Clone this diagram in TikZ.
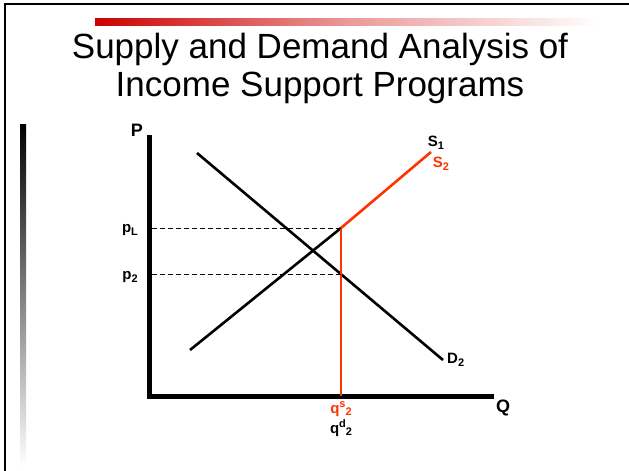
\documentclass[tikz,border=0pt]{standalone}
\usepackage{fontspec}
\setmainfont{Liberation Sans}
\usetikzlibrary{positioning,calc}
\definecolor{supred}{RGB}{255,51,0}
\definecolor{barred}{RGB}{204,0,0}
\newcommand\lowidx[1]{\raisebox{-0.35ex}{\fontsize{11}{11}\selectfont #1}}
\newcommand\highidx[1]{\raisebox{0.7ex}{\fontsize{11}{11}\selectfont #1}}
\tikzset{
  axis/.style={line width=5pt, line join=miter},
  curve/.style={line width=2.6pt},
  redcurve/.style={curve, draw=supred},
  guide/.style={line width=0.9pt, dash pattern=on 5pt off 3pt},
  axislbl/.style={font=\bfseries\fontsize{18}{18}\selectfont, inner sep=1pt},
  lbl/.style={font=\bfseries\fontsize{15}{15}\selectfont, inner sep=1pt},
  titletext/.style={font=\fontsize{35}{38}\selectfont, align=center}
}

\begin{document}
\begin{tikzpicture}[x=1pt, y=-1pt]
\useasboundingbox (0,0) rectangle (629,471);
% slide frame and bars
\draw[line width=2.5pt] (5,471) -- (5,4) -- (629,4);
\shade[left color=barred, right color=white, middle color=barred!40] (95,18) rectangle (600,25);
\shade[top color=black, bottom color=white] (20,124) rectangle (26,466);
\node[titletext] (title) at (320,68) {Supply and Demand Analysis of\\Income Support Programs};

% axes
\coordinate (origin) at (149,396);
\coordinate (ytop) at (149,135);
\coordinate (xend) at (494,396);
\draw[axis] (ytop) -- (origin) -- (xend);
\node[axislbl] (plbl) at (137,130) {P};
\node[axislbl] (qlbl) at (503,408) {Q};

% demand
\coordinate (d0) at (197,153);
\coordinate (d1) at (443,360);
\draw[curve] (d0) -- (d1);
\node[lbl, anchor=west] (dlbl) at (446,360) {D\lowidx{2}};

% supply with price floor
\coordinate (s0) at (190,350);
\coordinate (kink) at (341,228);
\coordinate (s1) at (431,152);
\draw[curve] (s0) -- (kink);
\draw[redcurve] (kink) -- (s1);
\draw[redcurve] (kink) -- (kink |- origin);
\node[lbl] (s1lbl) at (436,143) {S\lowidx{1}};
\node[lbl, text=supred] (s2lbl) at (441,164) {S\lowidx{2}};

% price levels
\node[lbl] (pL) at (130,230) {p\lowidx{L}};
\node[lbl] (p2) at (130,277) {p\lowidx{2}};
\coordinate (p2pt) at (341,274);
\draw[guide] (ytop |- kink) ++(2.5,0) -- (kink);
\draw[guide] (ytop |- p2pt) ++(2.5,0) -- (p2pt);

% quantities
\node[lbl, text=supred] (qs) at (341,409) {q\highidx{s}\lowidx{2}};
\node[lbl] (qd) at (341,428) {q\highidx{d}\lowidx{2}};
\end{tikzpicture}
\end{document}
